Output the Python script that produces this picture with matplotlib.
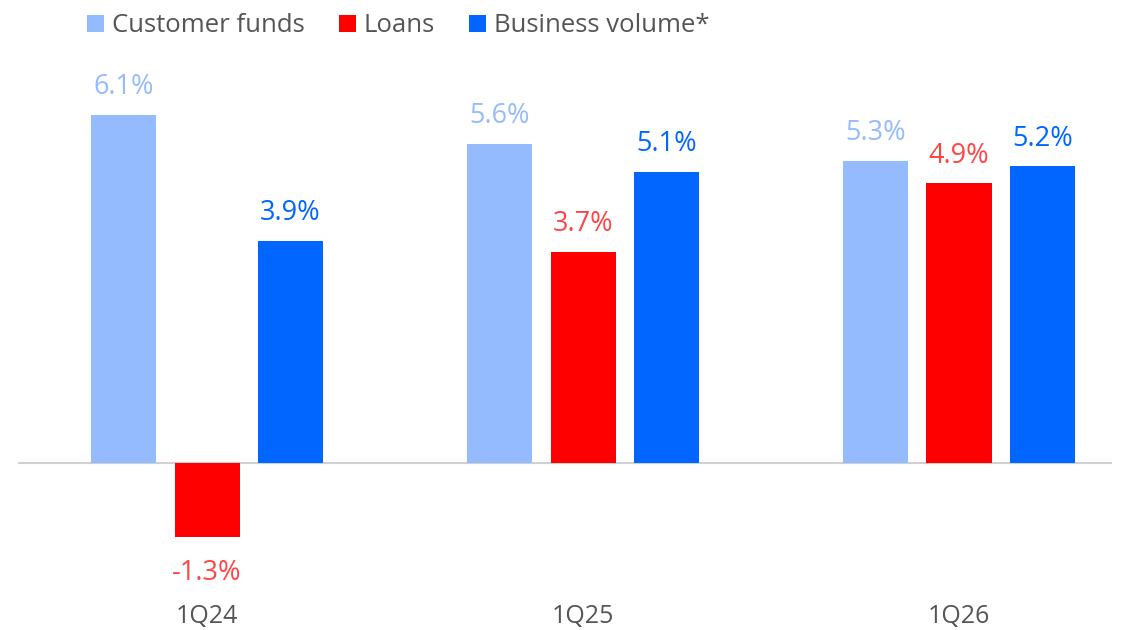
import numpy as np
import matplotlib.pyplot as plt
from matplotlib.patches import Patch

plt.rcParams["font.family"] = ["Open Sans", "DejaVu Sans"]

quarters = ["1Q24", "1Q25", "1Q26"]
series = ["Customer funds", "Loans", "Business volume*"]
customer_funds = [6.1, 5.6, 5.3]
loans = [-1.3, 3.7, 4.9]
business_volume = [3.9, 5.1, 5.2]

bar_colors = ["#94BBFE", "#FF0000", "#0066FF"]
label_colors = ["#94BBFE", "#FF4444", "#0066FF"]

W, H = 1127, 630
fig = plt.figure(figsize=(W / 100, H / 100), dpi=100)
# axes placed in pixel terms: x 18..1112, y 60..600 (from top)
ax = fig.add_axes([18 / W, 1 - 600 / H, (1112 - 18) / W, 540 / H])

x = np.arange(len(quarters))
width = 0.173
offset = 0.222

for k, vals in enumerate([customer_funds, loans, business_volume]):
    xs = x + (k - 1) * offset
    ax.bar(xs, vals, width=width, color=bar_colors[k], zorder=2)
    for xi, v in zip(xs, vals):
        dy = 20 if v >= 0 else -26
        ax.annotate(
            f"{v:.1f}%",
            (xi, v),
            xytext=(0, dy),
            textcoords="offset points",
            ha="center",
            va="center",
            fontsize=19.5,
            color=label_colors[k],
        )

ax.axhline(0, color="#D0D0D0", linewidth=1.5, zorder=1)
ax.set_xlim(-0.503, 2.407)
ax.set_ylim(-2.401, 7.064)

ax.set_xticks(x)
ax.set_xticklabels(quarters, fontsize=18, color="#555555")
ax.tick_params(axis="x", length=0, pad=3)
ax.set_yticks([])
for s in ax.spines.values():
    s.set_visible(False)

handles = [Patch(facecolor=c, edgecolor="none") for c in bar_colors]
fig.legend(
    handles,
    series,
    loc="upper left",
    bbox_to_anchor=(64 / W, 1 + 10 / H),
    ncol=3,
    frameon=False,
    fontsize=18.5,
    handlelength=0.65,
    handleheight=0.65,
    handletextpad=0.3,
    columnspacing=1.35,
    labelcolor="#555555",
)

fig.savefig("out.png", dpi=100)
